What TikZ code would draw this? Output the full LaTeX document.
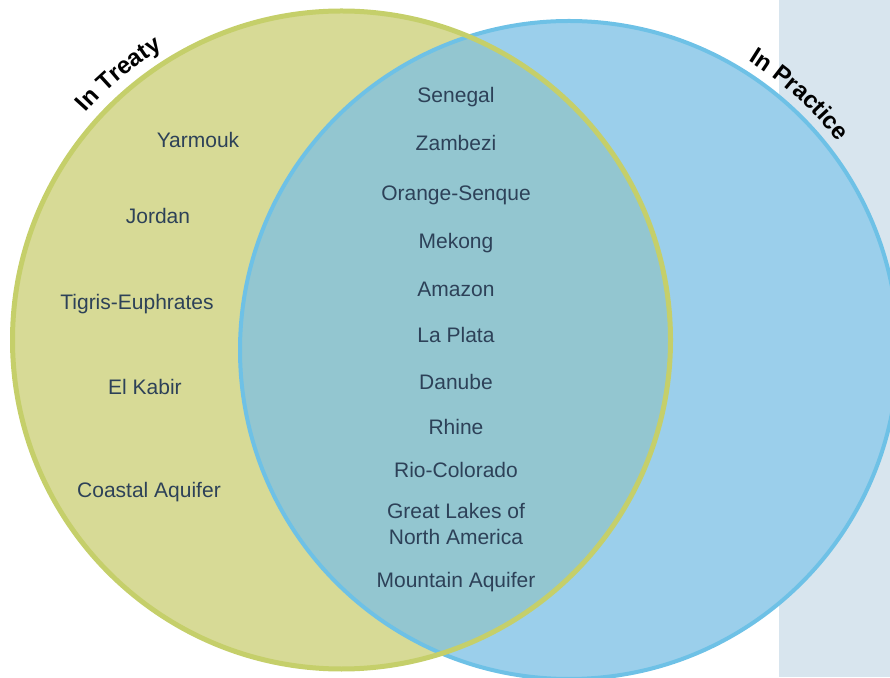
\documentclass[tikz,border=0pt]{standalone}
\usepackage{fontspec}
\setmainfont{Liberation Sans}
\usetikzlibrary{decorations.text}
\definecolor{ylwfill}{HTML}{D7DA96}
\definecolor{ylwline}{HTML}{C5CF6A}
\definecolor{bluefill}{HTML}{9BCFEB}
\definecolor{overlapfill}{HTML}{93C6D0}
\definecolor{blueline}{HTML}{6EC1E6}
\definecolor{panel}{HTML}{D8E5EE}
\definecolor{txt}{HTML}{2D4158}
\newcommand{\lblfont}{\fontsize{24}{28}\selectfont\bfseries}
\begin{document}
\begin{tikzpicture}[x=1pt,y=1pt,
  item/.style={text=txt, font=\fontsize{21}{26.5}\selectfont, align=center, inner sep=0pt, anchor=base},
  arclabel/.style={decorate, decoration={text along path, text align=center, text={|\lblfont|#1}}}]
\useasboundingbox (0,0) rectangle (890,677);
\clip (0,0) rectangle (890,677);
\fill[panel] (779,0) rectangle (890,677);
\coordinate (yc) at (341.5,337);
\coordinate (bc) at (569,327);
\fill[ylwfill] (yc) circle[radius=329];
\fill[bluefill] (bc) circle[radius=329];
\begin{scope}
  \clip (yc) circle[radius=329];
  \fill[overlapfill] (bc) circle[radius=329];
\end{scope}
\draw[blueline, line width=4] (bc) circle[radius=329];
\draw[ylwline, line width=5] (yc) circle[radius=329];
% curved labels
\path[arclabel={In Treaty}] ([shift={(165:342)}]yc) arc[start angle=165, end angle=95, radius=342];
\path[arclabel={In Practice}] ([shift={(83:340)}]bc) arc[start angle=83, end angle=13, radius=340];
% left-only items
\node[item] (yarmouk) at (198,529) {Yarmouk};
\node[item] (jordan) at (158,453) {Jordan};
\node[item] (tigris) at (137,367) {Tigris-Euphrates};
\node[item] (kabir) at (145,282) {El Kabir};
\node[item] (coastal) at (149,179) {Coastal Aquifer};
% overlap items
\node[item] (senegal) at (456,574) {Senegal};
\node[item] (zambezi) at (456,526) {Zambezi};
\node[item] (orange) at (456,476) {Orange-Senque};
\node[item] (mekong) at (456,428) {Mekong};
\node[item] (amazon) at (456,380) {Amazon};
\node[item] (plata) at (456,334) {La Plata};
\node[item] (danube) at (456,287) {Danube};
\node[item] (rhine) at (456,242) {Rhine};
\node[item] (rio) at (456,199) {Rio-Colorado};
\node[item, anchor=north] (lakes) at (456,174) {Great Lakes of\\North America};
\node[item] (mountain) at (456,90) {Mountain Aquifer};
\end{tikzpicture}
\end{document}
